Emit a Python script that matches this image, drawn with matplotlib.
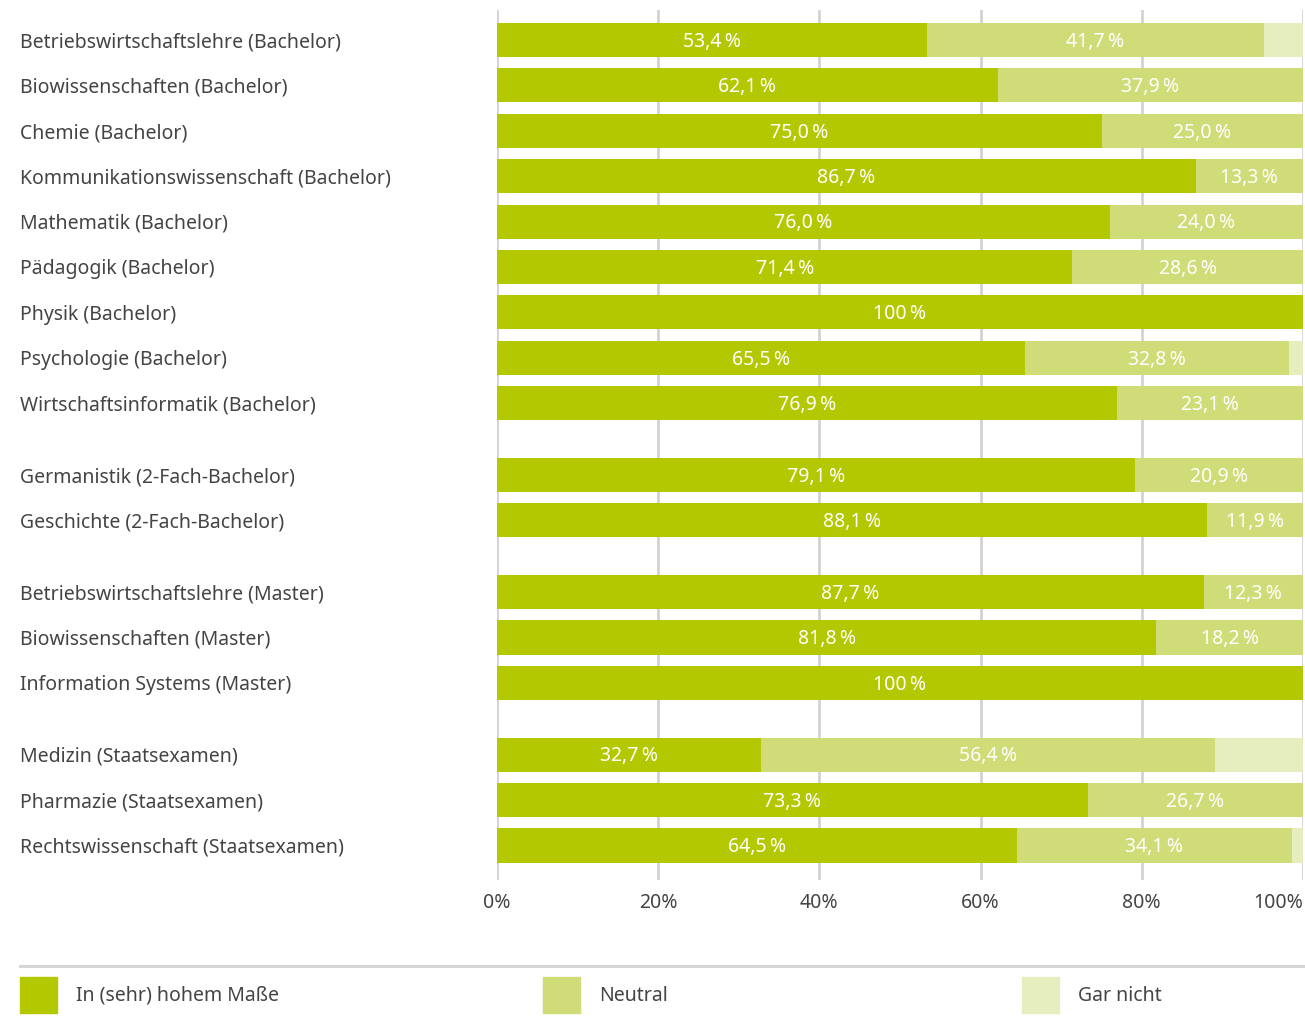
import matplotlib.pyplot as plt
from matplotlib.patches import Rectangle
from matplotlib.lines import Line2D

plt.rcParams['font.family'] = ['Noto Sans', 'DejaVu Sans']

studiengaenge = [
    'Betriebswirtschaftslehre (Bachelor)',
    'Biowissenschaften (Bachelor)',
    'Chemie (Bachelor)',
    'Kommunikationswissenschaft (Bachelor)',
    'Mathematik (Bachelor)',
    'Pädagogik (Bachelor)',
    'Physik (Bachelor)',
    'Psychologie (Bachelor)',
    'Wirtschaftsinformatik (Bachelor)',
    'Germanistik (2-Fach-Bachelor)',
    'Geschichte (2-Fach-Bachelor)',
    'Betriebswirtschaftslehre (Master)',
    'Biowissenschaften (Master)',
    'Information Systems (Master)',
    'Medizin (Staatsexamen)',
    'Pharmazie (Staatsexamen)',
    'Rechtswissenschaft (Staatsexamen)',
]
# group index per row (Bachelor, 2-Fach, Master, Staatsexamen)
gruppe = [0] * 9 + [1] * 2 + [2] * 3 + [3] * 3

hoch = [53.4, 62.1, 75.0, 86.7, 76.0, 71.4, 100, 65.5, 76.9,
        79.1, 88.1, 87.7, 81.8, 100, 32.7, 73.3, 64.5]
neutral = [41.7, 37.9, 25.0, 13.3, 24.0, 28.6, 0, 32.8, 23.1,
           20.9, 11.9, 12.3, 18.2, 0, 56.4, 26.7, 34.1]
gar_nicht = [4.9, 0, 0, 0, 0, 0, 0, 1.7, 0,
             0, 0, 0, 0, 0, 10.9, 0, 1.4]

legende = ['In (sehr) hohem Maße', 'Neutral', 'Gar nicht']
farben = ['#b3c800', '#d0dc78', '#e6edbf']
ticks = [0, 20, 40, 60, 80, 100]

# row positions with extra space between groups
ypos = [i + 0.58 * g for i, g in enumerate(gruppe)]


def fmt(v):
    if v == 100:
        return '100\u2009%'
    return f'{v:.1f}'.replace('.', ',') + '\u2009%'


fig = plt.figure(figsize=(13.05, 10.18), dpi=100)
ax = fig.add_axes([497 / 1305, 1 - 880 / 1018, 806 / 1305, 870 / 1018])

for x in ticks:
    ax.axvline(x, color='#d3d3d3', lw=2, zorder=0)

left = [0] * len(hoch)
for serie, farbe, beschriften in zip([hoch, neutral, gar_nicht], farben, [True, True, False]):
    ax.barh(ypos, serie, left=left, height=0.75, color=farbe, zorder=2)
    if beschriften:
        for y, l, v in zip(ypos, left, serie):
            if v > 0:
                ax.text(l + v / 2, y + 0.04, fmt(v), ha='center', va='center',
                        color='white', fontsize=14, zorder=3)
    left = [a + b for a, b in zip(left, serie)]

ax.set_xlim(0, 100)
ax.set_ylim(18.5, -0.66)
ax.set_yticks([])
ax.set_xticks(ticks)
ax.set_xticklabels([f'{t}%' for t in ticks], fontsize=14, color='#444444')
ax.get_xticklabels()[-1].set_ha('right')
ax.get_xticklabels()[-1].set_x(100)
ax.tick_params(axis='x', length=0, pad=9)
for s in ax.spines.values():
    s.set_visible(False)

for y, name in zip(ypos, studiengaenge):
    ax.text(-0.592, y + 0.05, name, transform=ax.get_yaxis_transform(),
            ha='left', va='center', fontsize=14, color='#444444')

# legend row below the chart
fig.add_artist(Line2D([20 / 1305, 1], [1 - 966 / 1018] * 2, color='#d3d3d3', lw=2))
for x0, text, farbe in zip([20, 543, 1022], legende, farben):
    fig.add_artist(Rectangle((x0 / 1305, 1 - 1013 / 1018), 37 / 1305, 36 / 1018,
                             color=farbe, transform=fig.transFigure))
    fig.text((x0 + 56) / 1305, 1 - 996 / 1018, text, ha='left', va='center',
             fontsize=14, color='#444444')

fig.savefig('out.png', dpi=100)
